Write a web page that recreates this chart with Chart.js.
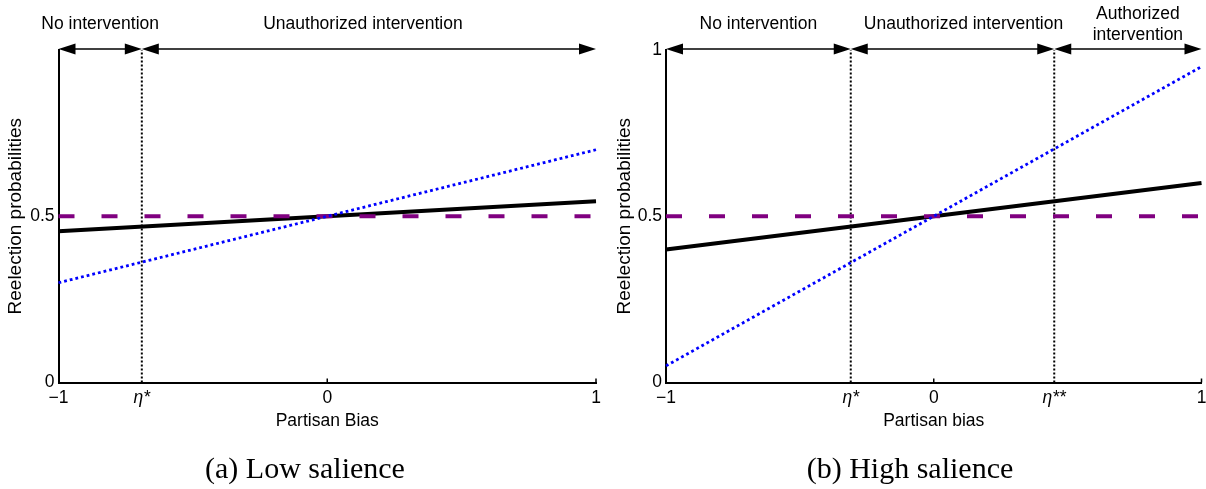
<!DOCTYPE html>
<html><head><meta charset="utf-8">
<script src="https://cdn.jsdelivr.net/npm/chart.js@4.4.1/dist/chart.umd.min.js"></script>
<style>
html,body{margin:0;padding:0;background:#fff;width:1206px;height:489px;overflow:hidden}
.panel{position:absolute;top:0;width:603px;height:489px}
.cap{position:absolute;top:451px;font:30px 'Liberation Serif','Times New Roman',serif;color:#000;white-space:nowrap;transform:translateX(-50%);line-height:34px}
</style></head><body>
<div class="panel" style="left:0"><canvas id="a" width="603" height="489"></canvas></div>
<div class="panel" style="left:603px"><canvas id="b" width="603" height="489"></canvas></div>
<div class="cap" style="left:305px">(a) Low salience</div>
<div class="cap" style="left:910px">(b) High salience</div>
<script>
// ---- data ----
const xEnds = [-1, 1];

const lowPolicy   = [0.455, 0.545];   // solid black
const lowSignal   = [0.30, 0.70];     // dotted blue
const lowBaseline = [0.5, 0.5];       // dashed purple
const lowThresholds = [-0.69];
const lowXTickLabels = ['\u22121', '\u03B7*', '0', '1'];
const lowYTicks = [0, 0.5];
const lowYTickLabels = ['0', '0.5'];
const lowRegionLabels = [['No intervention'], ['Unauthorized intervention']];

const highPolicy   = [0.40, 0.60];
const highSignal   = [0.05, 0.95];
const highBaseline = [0.5, 0.5];
const highThresholds = [-0.31, 0.45];
const highXTickLabels = ['\u22121', '\u03B7*', '0', '\u03B7**', '1'];
const highYTicks = [0, 0.5, 1];
const highYTickLabels = ['0', '0.5', '1'];
const highRegionLabels = [['No intervention'], ['Unauthorized intervention'], ['Authorized', 'intervention']];

const yTitle = 'Reelection probabilities';
// ---- drawing ----
const FAMILY = "'Liberation Sans', Arial, Helvetica, sans-serif";

function pts(ys) { return xEnds.map((x, i) => ({x: x, y: ys[i]})); }
function vline(x) { return [{x: x, y: 0}, {x: x, y: 1}]; }

const regionPlugin = {
  id: 'regions',
  afterDraw(chart, args, o) {
    const ctx = chart.ctx, xs = chart.scales.x, ys = chart.scales.y;
    const bounds = [xEnds[0]].concat(o.thresholds, [xEnds[1]]).map(v => xs.getPixelForValue(v));
    const ay = ys.getPixelForValue(1) - 1;
    ctx.save();
    ctx.strokeStyle = '#000'; ctx.fillStyle = '#000'; ctx.lineWidth = 1.7;
    const L = 17, H = 5.5;
    for (let i = 0; i < bounds.length - 1; i++) {
      const a = bounds[i], b = bounds[i + 1];
      ctx.beginPath(); ctx.moveTo(a + 4, ay); ctx.lineTo(b - 4, ay); ctx.stroke();
      ctx.beginPath(); ctx.moveTo(a, ay); ctx.lineTo(a + L, ay - H); ctx.lineTo(a + L, ay + H); ctx.closePath(); ctx.fill();
      ctx.beginPath(); ctx.moveTo(b, ay); ctx.lineTo(b - L, ay - H); ctx.lineTo(b - L, ay + H); ctx.closePath(); ctx.fill();
      const lines = o.labels[i];
      const cx = (a + b) / 2 + (o.nudges[i] || 0);
      const cy = ay - 24.5;
      ctx.font = '17.5px ' + FAMILY;
      ctx.textAlign = 'center'; ctx.textBaseline = 'middle';
      lines.forEach((t, k) => {
        ctx.fillText(t, cx, cy + (k - (lines.length - 1) / 2) * 21);
      });
    }
    // small inward tick marks on the x axis
    ctx.lineWidth = 1.5;
    const by = ys.getPixelForValue(0);
    [0, xEnds[1]].forEach(v => {
      const px = xs.getPixelForValue(v);
      ctx.beginPath(); ctx.moveTo(px, by); ctx.lineTo(px, by - 4); ctx.stroke();
    });
    ctx.restore();
  }
};

function make(id, cfg) {
  const xTicks = [xEnds[0]].concat(cfg.thresholds.filter(t => t < 0), [0], cfg.thresholds.filter(t => t > 0), [xEnds[1]]);
  const common = {pointRadius: 0, fill: false, tension: 0, clip: false, borderCapStyle: 'butt'};
  const datasets = [
    Object.assign({data: pts(cfg.signal), borderColor: '#0000ff', borderWidth: 2.8, borderDash: [2.8, 3], order: 1}, common),
    Object.assign({data: pts(cfg.baseline), borderColor: '#800080', borderWidth: 4, borderDash: [16, 27], order: 2}, common),
    Object.assign({data: pts(cfg.policy), borderColor: '#000000', borderWidth: 4, order: 3}, common)
  ].concat(cfg.thresholds.map(t => Object.assign({data: vline(t), borderColor: '#000', borderWidth: 2, borderDash: [2, 2], order: 4}, common)));

  return new Chart(document.getElementById(id), {
    type: 'line',
    data: {datasets: datasets},
    plugins: [regionPlugin],
    options: {
      responsive: false, animation: false, events: [],
      layout: {padding: {left: 0, right: cfg.padRight, top: 50, bottom: 57.5}},
      plugins: {legend: {display: false}, tooltip: {enabled: false},
        regions: {thresholds: cfg.thresholds, labels: cfg.regionLabels, nudges: cfg.nudges}},
      scales: {
        x: {
          type: 'linear', min: -1, max: 1,
          afterBuildTicks: s => { s.ticks = xTicks.map(v => ({value: v})); },
          afterFit: s => { s.height = 49; s.paddingLeft = 0; s.paddingRight = 0; },
          grid: {display: true, drawOnChartArea: false, drawTicks: false},
          border: {display: true, color: '#000', width: 2},
          ticks: {autoSkip: false, maxRotation: 0, minRotation: 0, padding: 5, color: '#000',
            font: c => ({family: FAMILY, size: 17.5, style: /\u03B7/.test(cfg.xTickLabels[c.index] || '') ? 'italic' : 'normal'}),
            callback: (v, i) => cfg.xTickLabels[i]},
          title: {display: true, text: cfg.xTitle, color: '#000', font: {family: FAMILY, size: 17.5}, padding: {top: 0, bottom: 0}}
        },
        y: {
          type: 'linear', min: 0, max: 1,
          afterBuildTicks: s => { s.ticks = cfg.yTicks.map(v => ({value: v})); },
          afterFit: s => { s.width = cfg.yWidth; s.paddingTop = 0; s.paddingBottom = 0; },
          grid: {display: true, drawOnChartArea: false, drawTicks: false},
          border: {display: true, color: '#000', width: 2},
          ticks: {padding: 4, color: '#000', font: {family: FAMILY, size: 17.5}, callback: (v, i) => cfg.yTickLabels[i]},
          title: {display: true, text: yTitle, color: '#000', font: {family: FAMILY, size: 19}, padding: {top: cfg.yTitlePad, bottom: 0}}
        }
      }
    }
  });
}

make('a', {
  policy: lowPolicy, signal: lowSignal, baseline: lowBaseline, thresholds: lowThresholds,
  xTickLabels: lowXTickLabels, yTicks: lowYTicks, yTickLabels: lowYTickLabels,
  regionLabels: lowRegionLabels, nudges: [0, -6], xTitle: 'Partisan Bias',
  yWidth: 58.5, padRight: 7, yTitlePad: 4
});
make('b', {
  policy: highPolicy, signal: highSignal, baseline: highBaseline, thresholds: highThresholds,
  xTickLabels: highXTickLabels, yTicks: highYTicks, yTickLabels: highYTickLabels,
  regionLabels: highRegionLabels, nudges: [0, 11, 10], xTitle: 'Partisan bias',
  yWidth: 63, padRight: 4.5, yTitlePad: 10.7
});
</script>
</body></html>
